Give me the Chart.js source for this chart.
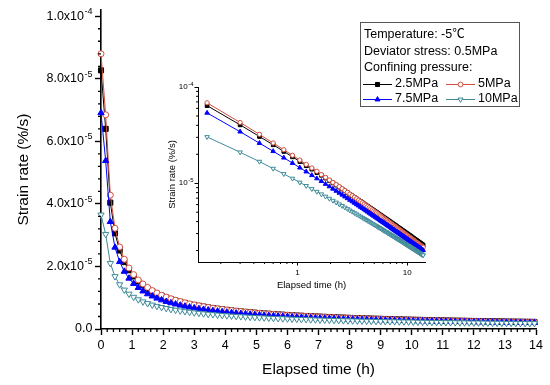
<!DOCTYPE html>
<html>
<head>
<meta charset="utf-8">
<script src="https://cdn.jsdelivr.net/npm/chart.js@4.4.0/dist/chart.umd.min.js"></script>
<style>
    html, body { margin: 0; padding: 0; background: #ffffff; }
    #wrap { position: relative; width: 550px; height: 385px; }
    #main { position: absolute; left: 0; top: 0; width: 550px; height: 385px; }
    #inset { position: absolute; left: 150px; top: 70px; width: 290px; height: 230px; }
</style>
</head>
<body>
<div id="wrap">
    <canvas id="main" width="550" height="385"></canvas>
    <canvas id="inset" width="290" height="230"></canvas>
</div>
<script>
// elapsed time (h)
const times = [
    0, 0.15, 0.3, 0.45, 0.6, 0.75, 0.9, 1.05, 1.2, 1.35,
    1.5, 1.65, 1.8, 1.95, 2.1, 2.25, 2.4, 2.55, 2.7, 2.85,
    3, 3.15, 3.3, 3.45, 3.6, 3.75, 3.9, 4.05, 4.2, 4.35,
    4.5, 4.65, 4.8, 4.95, 5.1, 5.25, 5.4, 5.55, 5.7, 5.85,
    6, 6.15, 6.3, 6.45, 6.6, 6.75, 6.9, 7.05, 7.2, 7.35,
    7.5, 7.65, 7.8, 7.95, 8.1, 8.25, 8.4, 8.55, 8.7, 8.85,
    9, 9.15, 9.3, 9.45, 9.6, 9.75, 9.9, 10.05, 10.2, 10.35,
    10.5, 10.65, 10.8, 10.95, 11.1, 11.25, 11.4, 11.55, 11.7, 11.85,
    12, 12.15, 12.3, 12.45, 12.6, 12.75, 12.9, 13.05, 13.2, 13.35,
    13.5, 13.65, 13.8, 13.95
];

// strain rate, in units of 1e-5 %/s
const rate25 = [
    8.27, 6.40, 4.04, 3.06, 2.51, 2.14, 1.88, 1.68, 1.52, 1.40,
    1.29, 1.21, 1.13, 1.065, 1.007, 0.956, 0.911, 0.870, 0.833, 0.799,
    0.768, 0.740, 0.714, 0.690, 0.668, 0.647, 0.628, 0.610, 0.593, 0.577,
    0.562, 0.547, 0.534, 0.521, 0.509, 0.498, 0.487, 0.476, 0.466, 0.457,
    0.448, 0.439, 0.431, 0.423, 0.415, 0.408, 0.401, 0.394, 0.387, 0.381,
    0.375, 0.369, 0.364, 0.358, 0.352, 0.347, 0.342, 0.338, 0.333, 0.328,
    0.324, 0.320, 0.316, 0.312, 0.307, 0.304, 0.300, 0.296, 0.293, 0.289,
    0.286, 0.283, 0.280, 0.276, 0.273, 0.270, 0.267, 0.265, 0.262, 0.259,
    0.256, 0.254, 0.251, 0.249, 0.246, 0.244, 0.242, 0.239, 0.237, 0.235,
    0.233, 0.231, 0.229, 0.227
];
const rate5 = [
    8.80, 6.85, 4.28, 3.22, 2.62, 2.23, 1.95, 1.74, 1.57, 1.44,
    1.33, 1.23, 1.15, 1.08, 1.02, 0.968, 0.921, 0.878, 0.839, 0.804,
    0.771, 0.742, 0.715, 0.690, 0.667, 0.645, 0.626, 0.607, 0.589, 0.572,
    0.557, 0.542, 0.528, 0.515, 0.502, 0.491, 0.480, 0.468, 0.458, 0.449,
    0.440, 0.430, 0.422, 0.414, 0.406, 0.399, 0.392, 0.385, 0.378, 0.371,
    0.365, 0.359, 0.354, 0.348, 0.342, 0.337, 0.332, 0.327, 0.323, 0.318,
    0.313, 0.309, 0.305, 0.301, 0.296, 0.293, 0.289, 0.285, 0.282, 0.278,
    0.275, 0.272, 0.269, 0.265, 0.262, 0.259, 0.256, 0.254, 0.251, 0.248,
    0.245, 0.243, 0.240, 0.238, 0.235, 0.233, 0.231, 0.228, 0.226, 0.224,
    0.222, 0.220, 0.218, 0.216
];
const rate75 = [
    6.91, 5.38, 3.43, 2.61, 2.15, 1.84, 1.62, 1.45, 1.32, 1.21,
    1.12, 1.05, 0.981, 0.925, 0.875, 0.832, 0.793, 0.758, 0.726, 0.697,
    0.670, 0.646, 0.624, 0.603, 0.584, 0.566, 0.550, 0.534, 0.519, 0.505,
    0.492, 0.480, 0.468, 0.457, 0.447, 0.437, 0.427, 0.418, 0.409, 0.402,
    0.394, 0.386, 0.379, 0.372, 0.365, 0.359, 0.353, 0.347, 0.341, 0.335,
    0.330, 0.325, 0.320, 0.315, 0.311, 0.306, 0.302, 0.298, 0.294, 0.290,
    0.286, 0.282, 0.278, 0.275, 0.271, 0.268, 0.265, 0.261, 0.258, 0.255,
    0.252, 0.250, 0.247, 0.244, 0.241, 0.239, 0.236, 0.234, 0.231, 0.229,
    0.227, 0.224, 0.222, 0.220, 0.218, 0.216, 0.214, 0.212, 0.210, 0.208,
    0.206, 0.204, 0.202, 0.201
];
const rate10 = [
    3.65, 3.03, 2.10, 1.68, 1.42, 1.25, 1.12, 1.02, 0.940, 0.873,
    0.818, 0.770, 0.729, 0.693, 0.661, 0.632, 0.606, 0.583, 0.561, 0.541,
    0.523, 0.507, 0.491, 0.477, 0.464, 0.451, 0.439, 0.428, 0.418, 0.408,
    0.399, 0.390, 0.381, 0.373, 0.366, 0.359, 0.352, 0.345, 0.339, 0.333,
    0.327, 0.321, 0.316, 0.311, 0.306, 0.301, 0.297, 0.292, 0.288, 0.284,
    0.280, 0.276, 0.272, 0.268, 0.265, 0.261, 0.258, 0.255, 0.252, 0.249,
    0.246, 0.243, 0.240, 0.237, 0.234, 0.232, 0.229, 0.227, 0.224, 0.222,
    0.220, 0.217, 0.215, 0.213, 0.211, 0.209, 0.207, 0.205, 0.203, 0.201,
    0.199, 0.198, 0.196, 0.194, 0.192, 0.191, 0.189, 0.187, 0.186, 0.184,
    0.183, 0.181, 0.180, 0.179
];

const seriesNames = ["2.5MPa", "5MPa", "7.5MPa", "10MPa"];
const seriesRates = [rate25, rate5, rate75, rate10];

const mainXTicks = [0, 1, 2, 3, 4, 5, 6, 7, 8, 9, 10, 11, 12, 13, 14];
const mainYTicks = [0, 2e-5, 4e-5, 6e-5, 8e-5, 1e-4];
const mainYBase = ["0.0", "2.0x10", "4.0x10", "6.0x10", "8.0x10", "1.0x10"];
const mainYExp = ["", "-5", "-5", "-5", "-5", "-4"];
const insetXTicks = [1, 10];
const insetXLabels = ["1", "10"];
const insetYTicks = [1e-5, 1e-4];
const insetYBase = ["10", "10"];
const insetYExp = ["-5", "-4"];
const legendHeader = ["Temperature: -5℃", "Deviator stress: 0.5MPa", "Confining pressure:"];

const FONT = '"Liberation Sans", Arial, "Noto Sans CJK SC", sans-serif';
Chart.defaults.font.family = FONT;
Chart.defaults.color = "#000";

const styles = [
    { color: "#000000", fill: "#000000", shape: "rect", rot: 0, r: 3.6 },
    { color: "rgb(210,78,62)", fill: "#ffffff", shape: "circle", rot: 0, r: 3 },
    { color: "#0000ff", fill: "#0000ff", shape: "triangle", rot: 0, r: 3.6 },
    { color: "rgb(62,138,152)", fill: "#ffffff", shape: "triangle", rot: 180, r: 3.6 }
];

function makeDatasets(start, scale) {
    return seriesRates.map((rates, i) => {
        const st = styles[i];
        const points = [];
        for (let k = start; k < times.length; k++) {
            points.push({ x: times[k], y: rates[k] * 1e-5 });
        }
        return {
            label: seriesNames[i],
            data: points,
            borderColor: st.color,
            borderWidth: 1,
            pointStyle: st.shape,
            pointRotation: st.rot,
            pointRadius: st.r * scale,
            pointBorderWidth: 1,
            pointBorderColor: st.color,
            pointBackgroundColor: st.fill,
            tension: 0,
            fill: false,
            clip: false,
            order: seriesNames.length - i
        };
    });
}

function range(a, b, step, skip) {
    const out = [];
    for (let v = a; v <= b + 1e-12; v += step) {
        const r = Math.round(v * 1e9) / 1e9;
        if (!skip(r)) out.push(r);
    }
    return out;
}

const minorTicks = {
    id: "minorTicks",
    afterDraw(chart, args, opts) {
        const ctx = chart.ctx;
        const area = chart.chartArea;
        const xs = chart.scales.x;
        const ys = chart.scales.y;
        ctx.save();
        ctx.strokeStyle = "#000";
        ctx.lineWidth = opts.width;
        ctx.beginPath();
        opts.x.forEach(v => {
            const px = xs.getPixelForValue(v);
            ctx.moveTo(px, area.bottom);
            ctx.lineTo(px, area.bottom + opts.len);
        });
        opts.y.forEach(v => {
            const py = ys.getPixelForValue(v);
            ctx.moveTo(area.left, py);
            ctx.lineTo(area.left - opts.len, py);
        });
        ctx.stroke();

        // y tick labels with raised exponents
        const lab = opts.labels;
        ctx.fillStyle = "#000";
        ctx.textBaseline = "middle";
        ctx.textAlign = "right";
        lab.values.forEach((v, i) => {
            const py = ys.getPixelForValue(v);
            let right = lab.right;
            if (lab.exp[i]) {
                ctx.font = lab.expSize + "px " + FONT;
                ctx.fillText(lab.exp[i], right, py - lab.raise);
                right -= ctx.measureText(lab.exp[i]).width + 0.5;
            }
            ctx.font = lab.size + "px " + FONT;
            ctx.fillText(lab.base[i], right, py);
        });
        ctx.restore();
    }
};

function drawMarker(ctx, st, x, y, r) {
    ctx.beginPath();
    if (st.shape === "rect") {
        const h = r * Math.SQRT1_2;
        ctx.rect(x - h, y - h, 2 * h, 2 * h);
    } else if (st.shape === "circle") {
        ctx.arc(x, y, r, 0, Math.PI * 2);
    } else {
        const dir = st.rot ? -1 : 1;
        ctx.moveTo(x, y - dir * r);
        ctx.lineTo(x - r * 0.866, y + dir * r * 0.5);
        ctx.lineTo(x + r * 0.866, y + dir * r * 0.5);
        ctx.closePath();
    }
    ctx.fillStyle = st.fill;
    ctx.strokeStyle = st.color;
    ctx.lineWidth = 1;
    ctx.fill();
    ctx.stroke();
}

const boxLegend = {
    id: "boxLegend",
    afterDraw(chart) {
        const ctx = chart.ctx;
        ctx.save();
        ctx.fillStyle = "#ffffff";
        ctx.fillRect(360.5, 22.5, 159, 84);
        ctx.strokeStyle = "#555555";
        ctx.lineWidth = 1;
        ctx.strokeRect(360.5, 22.5, 159, 84);

        ctx.font = "12.5px " + FONT;
        ctx.fillStyle = "#000";
        ctx.textBaseline = "middle";
        legendHeader.forEach((t, i) => ctx.fillText(t, 364, 35 + i * 16.5));

        const cols = [363, 446];
        const rows = [84, 99];
        seriesNames.forEach((name, i) => {
            const x0 = cols[i % 2];
            const y0 = rows[Math.floor(i / 2)];
            const st = styles[i];
            ctx.strokeStyle = st.color;
            ctx.lineWidth = 1;
            ctx.beginPath();
            ctx.moveTo(x0, y0 + 0.5);
            ctx.lineTo(x0 + 29, y0 + 0.5);
            ctx.stroke();
            drawMarker(ctx, st, x0 + 14.5, y0 + 0.5, st.r * 0.8);
            ctx.fillStyle = "#000";
            ctx.fillText(name, x0 + 32, y0);
        });
        ctx.restore();
    }
};

new Chart(document.getElementById("main"), {
    type: "line",
    data: { datasets: makeDatasets(0, 1) },
    options: {
        responsive: false,
        animation: false,
        devicePixelRatio: 1,
        layout: { padding: { top: 10, right: 14, left: 0, bottom: 0 } },
        plugins: {
            legend: { display: false },
            tooltip: { enabled: false },
            minorTicks: {
                x: range(0, 14, 0.2, v => Number.isInteger(v)),
                y: range(0, 1.02e-4, 4e-6, v => Math.abs(v / 2e-5 - Math.round(v / 2e-5)) < 1e-6),
                len: 3,
                width: 1.3,
                labels: { values: mainYTicks, base: mainYBase, exp: mainYExp,
                    right: 92.5, size: 12.5, expSize: 9, raise: 4.5 }
            }
        },
        scales: {
            x: {
                type: "linear",
                min: 0,
                max: 14,
                afterBuildTicks: s => { s.ticks = mainXTicks.map(v => ({ value: v })); },
                afterFit: s => { s.height = 56; },
                ticks: { autoSkip: false, maxRotation: 0, padding: 3, color: "#000", font: { size: 12.5 },
                    callback: v => String(v) },
                grid: { drawOnChartArea: false, tickLength: 6, tickWidth: 1.4, tickColor: "#000" },
                border: { color: "#000", width: 1.6 },
                title: { display: true, text: "Elapsed time (h)", color: "#000",
                    font: { size: 15.5, lineHeight: 1.2 }, padding: { top: 0, bottom: 6 } }
            },
            y: {
                type: "linear",
                min: 0,
                max: 1.02e-4,
                afterBuildTicks: s => { s.ticks = mainYTicks.map(v => ({ value: v })); },
                afterFit: s => { s.width = 101; },
                ticks: { display: false },
                grid: { drawOnChartArea: false, tickLength: 6, tickWidth: 1.4, tickColor: "#000" },
                border: { color: "#000", width: 1.6 },
                title: { display: true, text: "Strain rate (%/s)", color: "#000",
                    font: { size: 15.5, lineHeight: 1.2 }, padding: { top: 14, bottom: 0 } }
            }
        }
    },
    plugins: [minorTicks, boxLegend]
});

new Chart(document.getElementById("inset"), {
    type: "line",
    data: { datasets: makeDatasets(1, 0.72) },
    options: {
        responsive: false,
        animation: false,
        devicePixelRatio: 1,
        layout: { padding: { top: 17, right: 15, left: 0, bottom: 0 } },
        plugins: {
            legend: { display: false },
            tooltip: { enabled: false },
            minorTicks: {
                x: [0.2, 0.3, 0.4, 0.5, 0.6, 0.7, 0.8, 0.9, 2, 3, 4, 5, 6, 7, 8, 9],
                y: [2e-6, 3e-6, 4e-6, 5e-6, 6e-6, 7e-6, 8e-6, 9e-6,
                    2e-5, 3e-5, 4e-5, 5e-5, 6e-5, 7e-5, 8e-5, 9e-5],
                len: 2,
                width: 1,
                labels: { values: insetYTicks, base: insetYBase, exp: insetYExp,
                    right: 43.5, size: 8, expSize: 6, raise: 3 }
            }
        },
        scales: {
            x: {
                type: "logarithmic",
                min: 0.124,
                max: 14.5,
                afterBuildTicks: s => { s.ticks = insetXTicks.map(v => ({ value: v })); },
                afterFit: s => { s.height = 38; },
                ticks: { autoSkip: false, maxRotation: 0, padding: 2, color: "#000", font: { size: 8 },
                    callback: (v, i) => insetXLabels[i] },
                grid: { drawOnChartArea: false, tickLength: 3.5, tickWidth: 1, tickColor: "#000" },
                border: { color: "#000", width: 1 },
                title: { display: true, text: "Elapsed time (h)", color: "#000",
                    font: { size: 9.5, lineHeight: 1.2 }, padding: { top: 0, bottom: 9 } }
            },
            y: {
                type: "logarithmic",
                min: 1.52e-6,
                max: 1e-4,
                afterBuildTicks: s => { s.ticks = insetYTicks.map(v => ({ value: v })); },
                afterFit: s => { s.width = 48; },
                ticks: { display: false },
                grid: { drawOnChartArea: false, tickLength: 3.5, tickWidth: 1, tickColor: "#000" },
                border: { color: "#000", width: 1 },
                title: { display: true, text: "Strain rate (%/s)", color: "#000",
                    font: { size: 9.5, lineHeight: 1.2 }, padding: { top: 17, bottom: 0 } }
            }
        }
    },
    plugins: [minorTicks]
});
</script>
</body>
</html>
